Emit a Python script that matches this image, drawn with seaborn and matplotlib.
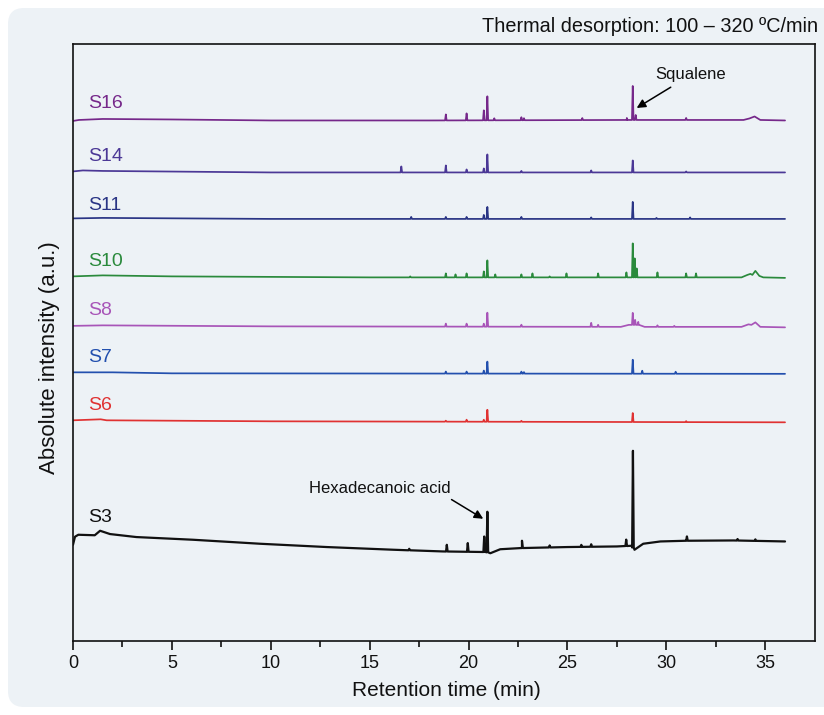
import numpy as np
import pandas as pd
import seaborn as sns
import matplotlib.pyplot as plt
from matplotlib.patches import FancyBboxPatch
from matplotlib.transforms import IdentityTransform

# Sample order (top to bottom) and colours
samples = ["S16", "S14", "S11", "S10", "S8", "S7", "S6", "S3"]
colors = ["#76288a", "#4b3896", "#2a3585", "#2a8a3c", "#a855b8", "#2350ae", "#e03232", "#111111"]

# Baseline knots (time in min, intensity a.u.)
S16_base_t = [0, 0.3, 1.5, 5, 10, 18, 28, 33.9, 34.2, 34.46, 34.75, 36]
S16_base_i = [520, 521, 522, 521.5, 520.5, 520.5, 521, 521, 522.5, 524.5, 521, 520.5]
S14_base_t = [0, 0.5, 1.5, 10, 36]
S14_base_i = [469.5, 470.5, 470, 468.5, 468.5]
S11_base_t = [0, 1.5, 10, 36]
S11_base_i = [422.5, 423, 422, 422]
S10_base_t = [0, 1.5, 5, 15, 33.8, 34.1, 34.25, 34.35, 34.5, 34.7, 34.9, 36]
S10_base_i = [364.5, 365.5, 364.5, 363.5, 363.5, 366, 367, 366, 370, 365, 363.5, 363]
S8_base_t = [0, 1.5, 10, 27.7, 28.1, 28.6, 28.9, 33.8, 34.15, 34.3, 34.5, 34.75, 36]
S8_base_i = [315, 315.5, 314.5, 314, 316, 316, 314, 314, 316.5, 316, 318.5, 314, 313.5]
S7_base_t = [0, 2, 5, 36]
S7_base_i = [268.5, 268.5, 267.5, 267]
S6_base_t = [0, 1.4, 1.7, 10, 36]
S6_base_i = [220.5, 221.5, 220.5, 219.5, 218.5]
S3_base_t = [0, 0.1, 0.27, 1.1, 1.37, 1.87, 3.2, 6.07, 9.46, 12.83, 16.2, 18.7, 20.9, 21.1,
             21.6, 22.7, 25.0, 27.5, 28.25, 28.39, 28.83, 29.7, 31.0, 33.4, 36.0]
S3_base_i = [96, 104, 106, 105.5, 110, 106.7, 103.7, 101, 97, 93.7, 91, 89.3, 88.7, 87.5,
             91.5, 92.7, 93.7, 94.3, 95, 91, 97, 99.3, 100, 100.3, 99.3]

# Peaks: retention time and height above baseline
S16_peak_t = [18.85, 19.9, 20.77, 20.95, 21.3, 22.67, 22.8, 25.75, 28.0, 28.3, 28.45, 31.0]
S16_peak_h = [6, 7, 10, 24, 2, 3, 2, 2, 2, 34, 5, 2]
S14_peak_t = [16.6, 18.85, 19.9, 20.77, 20.95, 22.67, 26.2, 28.3, 31.0]
S14_peak_h = [6, 7, 3, 4, 18, 1.5, 2, 12, 1]
S11_peak_t = [17.1, 18.85, 19.9, 20.77, 20.95, 22.67, 26.2, 28.3, 29.5, 31.2]
S11_peak_h = [2, 2, 2, 4, 12, 2, 1.5, 17, 1, 1.5]
S10_peak_t = [17.05, 18.85, 19.34, 19.9, 20.77, 20.95, 21.35, 22.67, 23.23, 24.1, 24.95,
              26.55, 27.98, 28.3, 28.4, 28.5, 29.55, 31.0, 31.5]
S10_peak_h = [1, 4, 3, 4, 6, 17, 3, 3, 4, 1, 4, 4, 5, 34, 19, 9, 5, 4, 4]
S8_peak_t = [18.85, 19.9, 20.77, 20.95, 22.67, 26.2, 26.55, 28.3, 28.42, 28.58, 29.55, 30.4]
S8_peak_h = [3, 3, 3, 14, 2, 4, 2, 12, 5, 3, 1.5, 1]
S7_peak_t = [18.85, 19.9, 20.77, 20.95, 22.67, 22.8, 28.3, 28.78, 30.47]
S7_peak_h = [2, 2, 3, 12, 2, 1.5, 14, 3, 2]
S6_peak_t = [18.85, 19.9, 20.77, 20.95, 22.67, 28.3, 31.0]
S6_peak_h = [1, 2, 2, 12, 1, 9, 1]
S3_peak_t = [17.0, 18.9, 19.96, 20.79, 20.95, 22.7, 24.1, 25.7, 26.2, 27.97, 28.31, 31.04, 33.6, 34.5]
S3_peak_h = [1.5, 6.7, 8.7, 15.5, 40.6, 7.3, 2, 2, 2.5, 6.4, 96.7, 4.3, 1.5, 1.5]

base_t = [S16_base_t, S14_base_t, S11_base_t, S10_base_t, S8_base_t, S7_base_t, S6_base_t, S3_base_t]
base_i = [S16_base_i, S14_base_i, S11_base_i, S10_base_i, S8_base_i, S7_base_i, S6_base_i, S3_base_i]
peak_t = [S16_peak_t, S14_peak_t, S11_peak_t, S10_peak_t, S8_peak_t, S7_peak_t, S6_peak_t, S3_peak_t]
peak_h = [S16_peak_h, S14_peak_h, S11_peak_h, S10_peak_h, S8_peak_h, S7_peak_h, S6_peak_h, S3_peak_h]

# Label positions (time, intensity)
label_t = [0.75] * 8
label_i = [537, 484, 435, 379, 330, 283, 235, 123]


def build_trace(name, kt, ki, pt, ph, w=0.04):
    t = list(kt)
    y = list(ki)
    for p, h in zip(pt, ph):
        b = np.interp(p, kt, ki)
        t += [p - w, p, p + w]
        y += [b, b + h, b]
    order = np.argsort(t, kind="stable")
    return pd.DataFrame({"time": np.array(t)[order], "intensity": np.array(y)[order], "sample": name})


df = pd.concat([build_trace(s, base_t[k], base_i[k], peak_t[k], peak_h[k])
                for k, s in enumerate(samples)], ignore_index=True)

sns.set_style("ticks")
plt.rcParams["font.family"] = ["Liberation Sans", "DejaVu Sans"]
plt.rcParams["text.color"] = "#111111"
plt.rcParams["xtick.color"] = "#111111"

fig = plt.figure(figsize=(8.24, 7.15), dpi=100)
fig.patch.set_facecolor("white")
panel = FancyBboxPatch((8, 715 - 707), 840, 699, boxstyle="round,pad=0,rounding_size=16",
                       transform=IdentityTransform(), facecolor="#edf2f6", edgecolor="none", zorder=-5)
fig.patches.append(panel)

ax = fig.add_axes([73 / 824, 1 - 640.7 / 715, (814.7 - 73) / 824, (640.7 - 44) / 715])
ax.set_facecolor("none")
ax.set_zorder(2)

palette = dict(zip(samples, colors))
for s in samples:
    sub = df[df["sample"] == s]
    sns.lineplot(data=sub, x="time", y="intensity", color=palette[s], sort=False, estimator=None,
                 lw=1.6 if s == "S3" else 1.25, ax=ax, legend=False)

for k, s in enumerate(samples):
    ax.text(label_t[k], label_i[k], s, color=colors[k], fontsize=14, ha="left", va="center")

ax.annotate("Squalene", xy=(28.5, 533), xytext=(29.45, 566), fontsize=12, ha="left", va="center",
            arrowprops=dict(arrowstyle="-|>", color="black", lw=1.1, mutation_scale=13, shrinkA=2, shrinkB=0))
ax.annotate("Hexadecanoic acid", xy=(20.74, 122), xytext=(15.5, 152), fontsize=12, ha="center", va="center",
            arrowprops=dict(arrowstyle="-|>", color="black", lw=1.1, mutation_scale=13,
                            shrinkA=0, shrinkB=0, relpos=(0.97, 0.0)))

ax.set_xlim(0, 37.5)
ax.set_ylim(0, 597)
ax.set_xticks(np.arange(0, 36, 5))
ax.set_xticks(np.arange(2.5, 37.5, 5), minor=True)
ax.set_yticks([])
ax.set_xlabel("")
ax.set_ylabel("")
ax.tick_params(axis="x", which="major", direction="out", length=6.5, width=1.2, labelsize=13, pad=4)
ax.tick_params(axis="x", which="minor", direction="out", length=4.5, width=1.2)
for sp in ax.spines.values():
    sp.set_visible(True)
    sp.set_linewidth(1.2)
    sp.set_color("#111111")

fig.text(818 / 824, 1 - 27 / 715, "Thermal desorption: 100 – 320 ºC/min", ha="right", va="center", fontsize=14.3)
fig.text(446 / 824, 1 - 690 / 715, "Retention time (min)", ha="center", va="center", fontsize=15)
fig.text(50 / 824, 1 - 358 / 715, "Absolute intensity (a.u.)", ha="center", va="center", fontsize=16,
         rotation=90)

fig.savefig("out.png", dpi=100)
